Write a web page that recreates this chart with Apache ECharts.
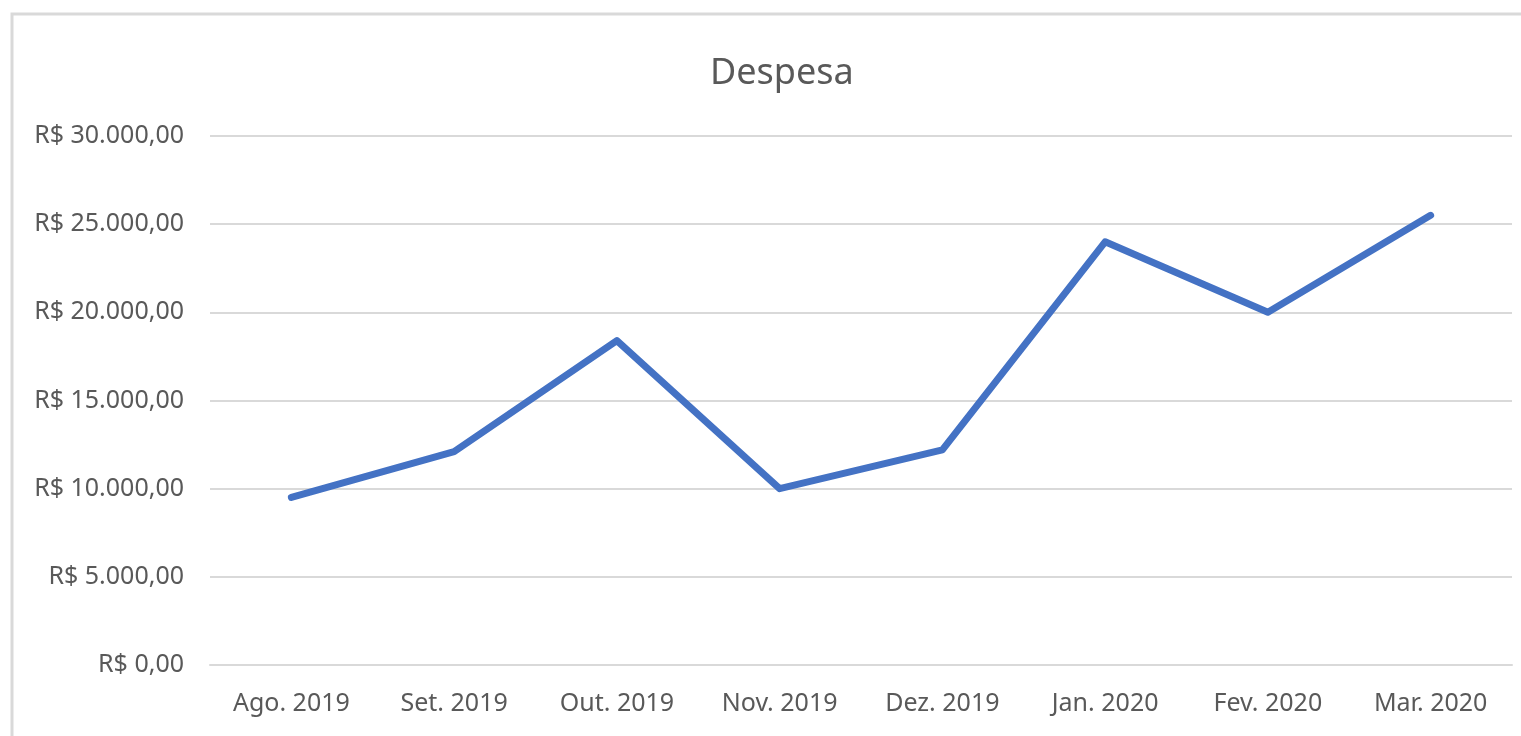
<!DOCTYPE html>
<html>
<head>
<meta charset="utf-8">
<script src="https://cdn.jsdelivr.net/npm/echarts@6/dist/echarts.min.js"></script>
<style>
html,body{margin:0;padding:0;background:#fff;}
#chart{width:1521px;height:736px;}
</style>
</head>
<body>
<div id="chart"></div>
<script>
const categories = ['Ago. 2019','Set. 2019','Out. 2019','Nov. 2019','Dez. 2019','Jan. 2020','Fev. 2020','Mar. 2020'];
const despesa = [9500, 12100, 18400, 10000, 12200, 24000, 20000, 25500];
const yMin = 0, yMax = 30000, yStep = 5000;
const titleText = 'Despesa';

function brl(v){
  const parts = Math.round(v).toString().replace(/\B(?=(\d{3})+(?!\d))/g, '.');
  return 'R$ ' + parts + ',00';
}

const FONT = '"Noto Sans", "Open Sans", sans-serif';
const chart = echarts.init(document.getElementById('chart'));
chart.setOption({
  animation: false,
  backgroundColor: '#ffffff',
  graphic: [{
    type: 'rect',
    shape: {x: 12, y: 14, width: 1700, height: 900},
    style: {fill: 'none', stroke: '#d9d9d9', lineWidth: 3},
    silent: true, z: -1
  }],
  title: {
    text: titleText,
    left: 705, top: 51,
    textStyle: {fontFamily: FONT, fontSize: 36, fontWeight: 'normal', color: '#595959'}
  },
  grid: {left: 210, right: 9, top: 136, bottom: 71, containLabel: false},
  xAxis: {
    type: 'category',
    data: categories,
    boundaryGap: true,
    axisLine: {show: true, lineStyle: {color: '#d9d9d9', width: 2}},
    axisTick: {show: false},
    axisLabel: {fontFamily: FONT, fontSize: 25, color: '#595959', margin: 26}
  },
  yAxis: {
    type: 'value',
    min: yMin, max: yMax, interval: yStep,
    axisLine: {show: false},
    axisTick: {show: false},
    splitLine: {lineStyle: {color: '#d9d9d9', width: 2}},
    axisLabel: {fontFamily: FONT, fontSize: 25, color: '#595959', margin: 26, formatter: brl}
  },
  series: [{
    type: 'line',
    name: titleText,
    data: despesa,
    showSymbol: false,
    symbol: 'none',
    lineStyle: {color: '#4472C4', width: 7, cap: 'round', join: 'round'},
    itemStyle: {color: '#4472C4'}
  }]
});
</script>
</body>
</html>
